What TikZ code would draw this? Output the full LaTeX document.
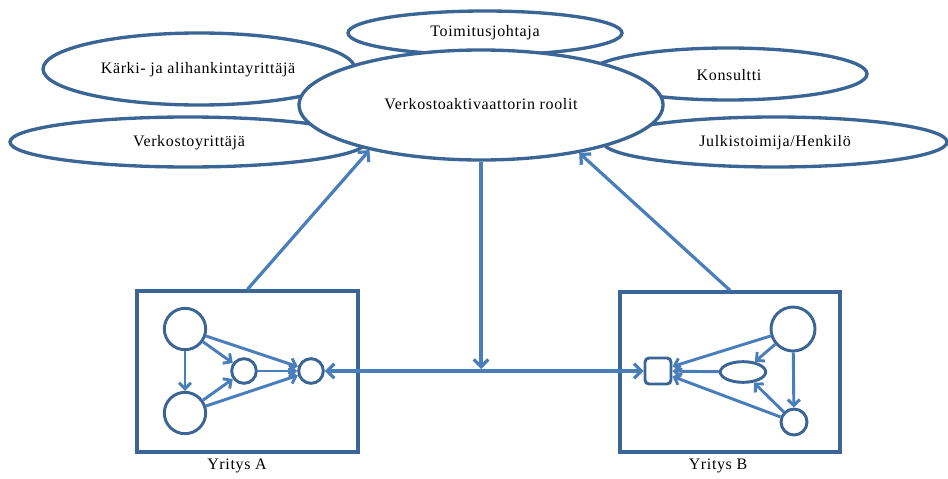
\documentclass[tikz,border=0pt]{standalone}
\usepackage{fontspec}
\setmainfont[LetterSpace=4]{Liberation Serif}
\usetikzlibrary{shapes.geometric,arrows.meta}
\definecolor{outl}{HTML}{3A6594}
\definecolor{arrc}{HTML}{4A7EBB}
\tikzset{
  role/.style={ellipse, draw=outl, line width=2.5pt, fill=white, inner sep=0pt, font=\fontsize{12}{14}\selectfont},
  firm/.style={rectangle, draw=outl, line width=2.5pt, inner sep=0pt},
  dot/.style={circle, draw=outl, line width=2.2pt, fill=white, inner sep=0pt},
  arr/.style={draw=arrc, line width=2.4pt, -{Straight Barb[length=5.5pt,width=11pt]}},
  darr/.style={draw=arrc, line width=2.4pt, {Straight Barb[length=5.5pt,width=11pt]}-{Straight Barb[length=5.5pt,width=11pt]}},
  iarr/.style={draw=arrc, line width=2.2pt, -{Straight Barb[length=4.5pt,width=9pt]}},
  lbl/.style={font=\fontsize{12}{14}\selectfont}
}
\begin{document}
\begin{tikzpicture}[x=0.75pt,y=-0.75pt]
\useasboundingbox (0,0) rectangle (948,478);
% outer role ellipses
\node[role, minimum width=205.5pt, minimum height=33pt] (toim) at (485,33) {};
\node[role, minimum width=234pt, minimum height=54pt] (karki) at (199,69) {};
\node[role, minimum width=267pt, minimum height=37.5pt] (verk) at (188,142) {};
\node[role, minimum width=208.5pt, minimum height=39pt] (kons) at (728,74) {};
\node[role, minimum width=258pt, minimum height=37.5pt] (julk) at (775,142) {};
\node[role, minimum width=273pt, minimum height=82.5pt] (main) at (481,105) {};
% texts
\node[lbl] (ttoim) at (485,33) {Toimitusjohtaja};
\node[lbl] (tkarki) at (198,70) {Kärki- ja alihankintayrittäjä};
\node[lbl] (tverk) at (189,143) {Verkostoyrittäjä};
\node[lbl] (tkons) at (729,75) {Konsultti};
\node[lbl] (tjulk) at (775,143) {Julkistoimija/Henkilö};
\node[lbl] (tmain) at (481,104) {Verkostoaktivaattorin roolit};
% firm boxes
\node[firm, minimum width=165.75pt, minimum height=120.75pt] (boxA) at (247.5,371.5) {};
\node[firm, minimum width=165pt, minimum height=120pt] (boxB) at (730,372) {};
\node[lbl] (labA) at (237,466) {Yritys A};
\node[lbl] (labB) at (718,466) {Yritys B};
% firm A internals
\node[dot, minimum size=31pt] (a1) at (185,329) {};
\node[dot, minimum size=31pt] (a2) at (185,413) {};
\node[dot, minimum size=18.5pt] (a3) at (244,371) {};
\node[dot, minimum size=18.5pt] (a4) at (311,371) {};
\draw[iarr] (a1) -- (a2);
\draw[iarr] (a1) -- (a3);
\draw[iarr] (a1) -- (a4);
\draw[iarr] (a2) -- (a3);
\draw[iarr] (a2) -- (a4);
\draw[iarr] (a3) -- (a4);
% firm B internals
\node[dot, minimum size=33pt] (b1) at (793,329) {};
\node[ellipse, draw=outl, line width=2.2pt, fill=white, inner sep=0pt, minimum width=34pt, minimum height=15.5pt] (b2) at (743,372) {};
\node[dot, minimum size=19.5pt] (b3) at (794,422) {};
\node[rectangle, rounded corners=3pt, draw=outl, line width=2.2pt, fill=white, inner sep=0pt, minimum size=19.5pt] (bsq) at (658,371) {};
\draw[iarr] (b1) -- (bsq);
\draw[iarr] (b1) -- (b2);
\draw[iarr] (b1) -- (b3);
\draw[iarr] (b2) -- (bsq);
\draw[iarr] (b3) -- (bsq);
\draw[iarr] (b3) -- (b2);
% main connectors
\coordinate (hit) at (481,369);
\draw[darr] (a4) -- (bsq);
\draw[arr] (main.south) -- (hit);
\draw[arr] (boxA.north) -- (main.202.5);
\draw[arr] (boxB.north) -- (main.334.6);
\end{tikzpicture}
\end{document}
